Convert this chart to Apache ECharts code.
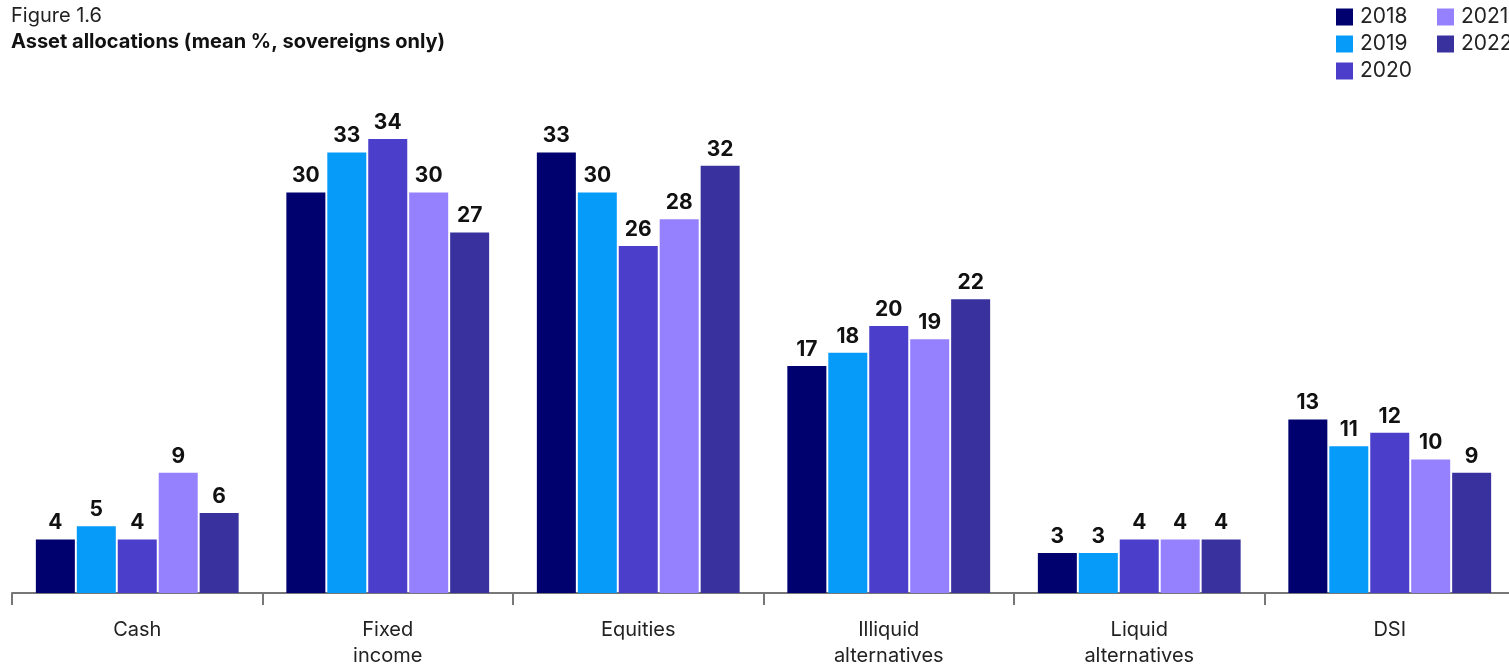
<!DOCTYPE html>
<html><head><meta charset="utf-8">
<script src="https://cdn.jsdelivr.net/npm/echarts@6/dist/echarts.min.js"></script>
<style>html,body{margin:0;padding:0;background:#fff}#c{width:1509px;height:669px}</style>
</head><body><div id="c"></div>
<script>
const categories = ['Cash', 'Fixed\nincome', 'Equities', 'Illiquid\nalternatives', 'Liquid\nalternatives', 'DSI'];
const years = ['2018', '2019', '2020', '2021', '2022'];
const v2018 = [4, 30, 33, 17, 3, 13];
const v2019 = [5, 33, 30, 18, 3, 11];
const v2020 = [4, 34, 26, 20, 4, 12];
const v2021 = [9, 30, 28, 19, 4, 10];
const v2022 = [6, 27, 32, 22, 4, 9];
const values = [v2018, v2019, v2020, v2021, v2022];
const colors = ['#00006f', '#069af9', '#4a3ecb', '#9580fd', '#39329e'];
const F = 'Inter, "Noto Sans", sans-serif';

const chart = echarts.init(document.getElementById('c'));
chart.setOption({
  animation: false,
  color: colors,
  title: [
    {text: 'Figure 1.6', left: 11, top: 6, padding: 0, textStyle: {fontFamily: F, fontSize: 20, fontWeight: 'normal', color: '#222'}},
    {text: 'Asset allocations (mean %, sovereigns only)', left: 11, top: 32, padding: 0, textStyle: {fontFamily: F, fontSize: 20, fontWeight: 'bold', color: '#111'}}
  ],
  legend: [
    {data: years.slice(0, 3), orient: 'vertical', left: 1336, top: 5, padding: 0, itemWidth: 17, itemHeight: 17, itemGap: 3,
     icon: 'rect', textStyle: {fontFamily: F, fontSize: 21, lineHeight: 24, color: '#222', padding: [0, 0, 0, 2]}},
    {data: years.slice(3), orient: 'vertical', left: 1437, top: 5, padding: 0, itemWidth: 17, itemHeight: 17, itemGap: 3,
     icon: 'rect', textStyle: {fontFamily: F, fontSize: 21, lineHeight: 24, color: '#222', padding: [0, 0, 0, 2]}}
  ],
  grid: {left: 12, top: 59, width: 1503, height: 534, containLabel: false, outerBoundsMode: 'none'},
  xAxis: {
    type: 'category', data: categories,
    axisLine: {lineStyle: {color: '#777', width: 2}},
    axisTick: {show: true, length: 12, lineStyle: {color: '#777', width: 2}},
    axisLabel: {fontFamily: F, fontSize: 20, color: '#222', margin: 24, lineHeight: 26}
  },
  yAxis: {type: 'value', min: 0, max: 40, show: false, splitLine: {show: false}},
  series: years.map((y, i) => ({
    name: y, type: 'bar', data: values[i], barWidth: 39, barGap: '5%',
    itemStyle: {color: colors[i]},
    label: {show: true, position: 'top', distance: 6, fontFamily: F, fontSize: 21, fontWeight: 'bold', color: '#111'}
  }))
});
</script></body></html>
